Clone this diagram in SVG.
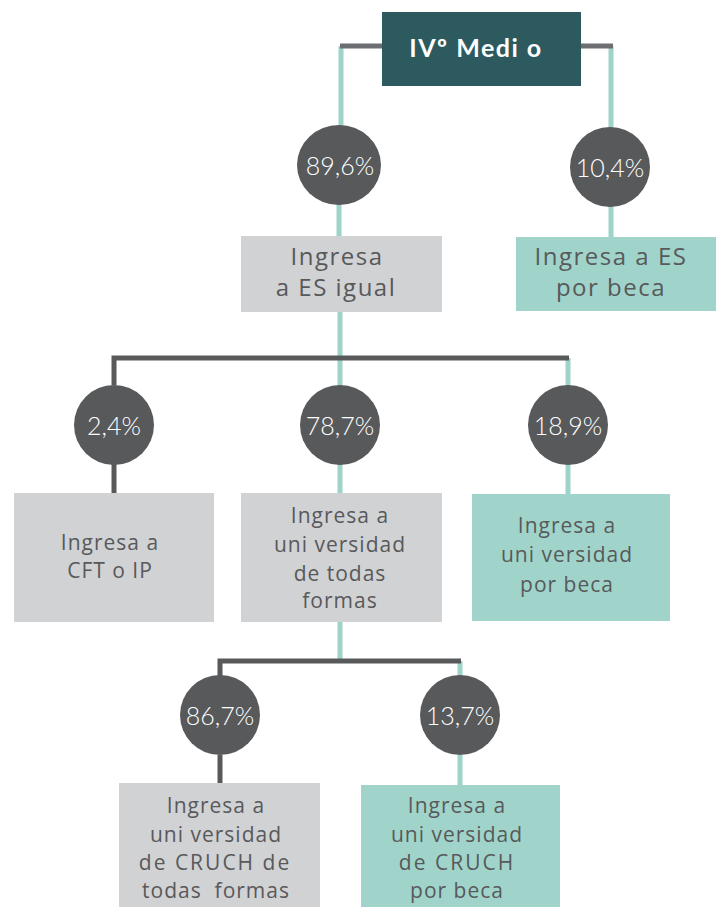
<svg xmlns="http://www.w3.org/2000/svg" width="720" height="907" viewBox="0 0 720 907">
<style>
.g{stroke:#58595b;stroke-width:5;fill:none}
.gt{stroke:#6d6e71;stroke-width:5;fill:none}
.t{stroke:#9dd3c8;stroke-width:5;fill:none}
.pc{fill:#58595b}
.pt{font-family:Lato,"Open Sans",sans-serif;font-weight:300;font-size:25px;fill:#ffffff;text-anchor:middle}
.bg{fill:#d1d2d4}
.bt{fill:#a0d4ca}
.lb{font-family:"Open Sans","Noto Sans",sans-serif;font-size:21px;fill:#58595b;text-anchor:middle;letter-spacing:1px;white-space:pre}
.lb1{font-size:24px;letter-spacing:1.5px}
.wide{letter-spacing:2px}
.hd{font-family:Lato,"Open Sans",sans-serif;font-weight:bold;font-size:25px;fill:#ffffff;text-anchor:middle;letter-spacing:1.5px}
</style>
<g id="connectors">
<path class="t" d="M341 46V126"/>
<path class="t" d="M611 46V128"/>
<path class="gt" d="M340 46H382"/>
<path class="gt" d="M581 46H613"/>
<path class="t" d="M339 204V237"/>
<path class="t" d="M611 206V238"/>
<path class="t" d="M340 312V386"/>
<path class="t" d="M568 358V386"/>
<path class="g" d="M114 385V358H569"/>
<path class="g" d="M114 464V494"/>
<path class="t" d="M340 464V494"/>
<path class="t" d="M568 464V495"/>
<path class="t" d="M340 622V661"/>
<path class="t" d="M460 661V676"/>
<path class="g" d="M220 676V661H461"/>
<path class="g" d="M220 755V784"/>
<path class="t" d="M460 755V786"/>
</g>
<g id="n-top">
<rect x="382" y="12" width="199" height="74" fill="#2c5a5f"/>
<text class="hd" x="476" y="57">IVº Medi o</text>
</g>
<g id="p-896">
<ellipse class="pc" cx="339" cy="165" rx="42" ry="40"/>
<text class="pt" x="340" y="175">89,6%</text>
</g>
<g id="p-104">
<circle class="pc" cx="610" cy="167" r="40"/>
<text class="pt" x="610" y="177">10,4%</text>
</g>
<g id="n-es-igual">
<rect class="bg" x="241" y="236" width="201" height="76"/>
<text class="lb lb1" x="337" y="265">Ingresa</text>
<text class="lb lb1" x="336" y="296">a ES igual</text>
</g>
<g id="n-es-beca">
<rect class="bt" x="516" y="237" width="200" height="74"/>
<text class="lb lb1" x="611" y="265">Ingresa a ES</text>
<text class="lb lb1" x="611" y="296">por beca</text>
</g>
<g id="p-24">
<circle class="pc" cx="114" cy="425" r="40"/>
<text class="pt" x="114" y="435">2,4%</text>
</g>
<g id="p-787">
<circle class="pc" cx="340" cy="425" r="40"/>
<text class="pt" x="340" y="435">78,7%</text>
</g>
<g id="p-189">
<circle class="pc" cx="568" cy="425" r="40"/>
<text class="pt" x="568" y="435">18,9%</text>
</g>
<g id="n-cft">
<rect class="bg" x="14" y="493" width="200" height="129"/>
<text class="lb" x="110" y="550">Ingresa a</text>
<text class="lb" x="110" y="578">CFT o IP</text>
</g>
<g id="n-univ-todas">
<rect class="bg" x="241" y="493" width="201" height="129"/>
<text class="lb" x="340" y="523">Ingresa a</text>
<text class="lb" x="340" y="552">uni versidad</text>
<text class="lb" x="340" y="581">de todas</text>
<text class="lb" x="340" y="608">formas</text>
</g>
<g id="n-univ-beca">
<rect class="bt" x="472" y="494" width="198" height="127"/>
<text class="lb" x="567" y="533">Ingresa a</text>
<text class="lb" x="567" y="562">uni versidad</text>
<text class="lb" x="567" y="592">por beca</text>
</g>
<g id="p-867">
<circle class="pc" cx="220" cy="715" r="40"/>
<text class="pt" x="220" y="725">86,7%</text>
</g>
<g id="p-137">
<circle class="pc" cx="460" cy="715" r="40"/>
<text class="pt" x="460" y="725">13,7%</text>
</g>
<g id="n-cruch-todas">
<rect class="bg" x="119" y="783" width="201" height="124"/>
<text class="lb" x="216" y="813">Ingresa a</text>
<text class="lb" x="216" y="842">uni versidad</text>
<text class="lb wide" x="215" y="870">de CRUCH de</text>
<text class="lb" x="216" y="898">todas  formas</text>
</g>
<g id="n-cruch-beca">
<rect class="bt" x="361" y="785" width="199" height="122"/>
<text class="lb" x="457" y="813">Ingresa a</text>
<text class="lb" x="457" y="842">uni versidad</text>
<text class="lb wide" x="457" y="870">de CRUCH</text>
<text class="lb" x="457" y="898">por beca</text>
</g>
</svg>
